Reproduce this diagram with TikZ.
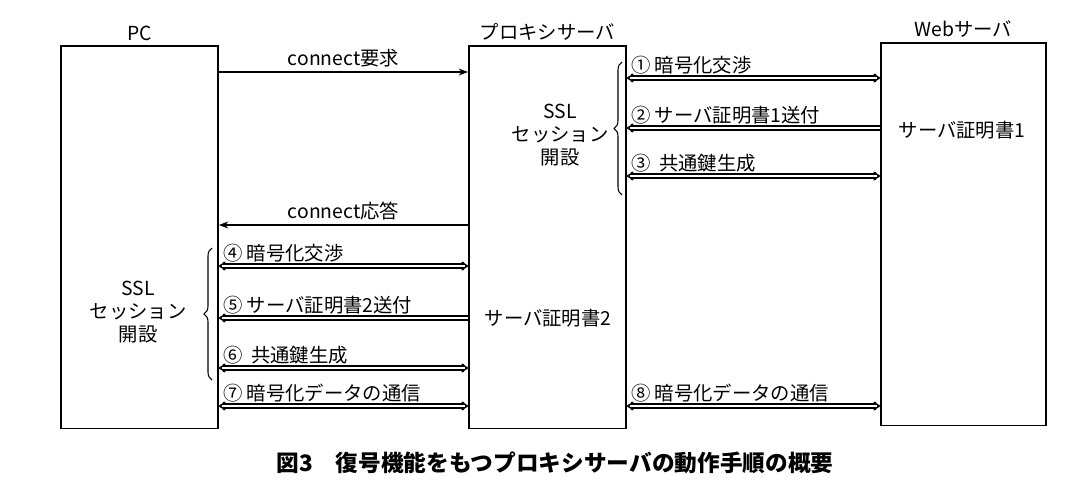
\documentclass[tikz,border=0pt]{standalone}
\usepackage{fontspec}
\newfontfamily\jp{Noto Sans CJK JP}
\usetikzlibrary{positioning,arrows.meta,decorations.pathreplacing}
\begin{document}
\begin{tikzpicture}[x=0.75pt,y=-0.75pt,
    font=\jp\fontsize{14.5}{17}\selectfont,
    % styles
    box/.style={draw, line width=1.2pt, minimum width=118pt, minimum height=287pt, anchor=north west, inner sep=0pt},
    msg/.style={-{Stealth[length=7pt]}, line width=0.9pt},
    dmsg/.style={draw=black, line width=3.8pt, {Implies[length=7pt]}-{Implies[length=7pt]},
        postaction={draw=white, line width=2.2pt, shorten <=2pt, shorten >=2pt, arrows=-}},
    lmsg/.style={draw=black, line width=3.8pt, {Implies[length=7pt]}-,
        postaction={draw=white, line width=2.2pt, shorten <=2pt, arrows=-}},
    lbl/.style={anchor=south west, inner sep=3pt},
    brc/.style={decorate, decoration={brace, amplitude=6pt}, line width=0.8pt},
    ]
    \useasboundingbox (0,0) rectangle (1069,496);
    % boxes
    \node[box] (pc)    at (60,45)  {};
    \node[box] (proxy) at (468,45) {};
    \node[box, minimum width=124pt] (web) at (880,42) {};
    \node[above=0pt of pc]    {PC};
    \node[above=0pt of proxy] {プロキシサーバ};
    \node[above=0pt of web]   {Webサーバ};

    % PC -- proxy
    \draw[msg] (pc.east |- {0,72}) -- node[above] {connect要求} (proxy.west |- {0,72});
    \draw[msg] (proxy.west |- {0,225}) -- node[above] {connect応答} (pc.east |- {0,225});

    % proxy -- web
    \draw[dmsg] (proxy.east |- {0,78}) -- (web.west |- {0,78});
    \node[lbl] at (proxy.east |- {0,78}) {① 暗号化交渉};
    \draw[lmsg] (proxy.east |- {0,128}) -- (web.west |- {0,128});
    \node[lbl] at (proxy.east |- {0,128}) {② サーバ証明書1送付};
    \draw[dmsg] (proxy.east |- {0,176}) -- (web.west |- {0,176});
    \node[lbl] at (proxy.east |- {0,176}) {③ \ 共通鍵生成};
    \draw[dmsg] (proxy.east |- {0,406}) -- (web.west |- {0,406});
    \node[lbl] at (proxy.east |- {0,406}) {⑧ 暗号化データの通信};
    \node (cert1) at (962,130) {サーバ証明書1};
    \draw[brc] (622,195) -- (622,62);
    \node[align=center] (ssl1) at (560,135) {SSL\\セッション\\開設};

    % PC -- proxy (SSL)
    \draw[dmsg] (pc.east |- {0,266}) -- (proxy.west |- {0,266});
    \node[lbl] at (pc.east |- {0,266}) {④ 暗号化交渉};
    \draw[lmsg] (pc.east |- {0,318}) -- (proxy.west |- {0,318});
    \node[lbl] at (pc.east |- {0,318}) {⑤ サーバ証明書2送付};
    \draw[dmsg] (pc.east |- {0,368}) -- (proxy.west |- {0,368});
    \node[lbl] at (pc.east |- {0,368}) {⑥ \ 共通鍵生成};
    \draw[dmsg] (pc.east |- {0,406}) -- (proxy.west |- {0,406});
    \node[lbl] at (pc.east |- {0,406}) {⑦ 暗号化データの通信};
    \node (cert2) at (548,318) {サーバ証明書2};
    \draw[brc] (212,380) -- (212,248);
    \node[align=center] (ssl2) at (138,312) {SSL\\セッション\\開設};

    % caption
    \node[font=\jp\bfseries\fontsize{17}{20}\selectfont] (cap) at (555,463) {図3\quad 復号機能をもつプロキシサーバの動作手順の概要};
\end{tikzpicture}
\end{document}
